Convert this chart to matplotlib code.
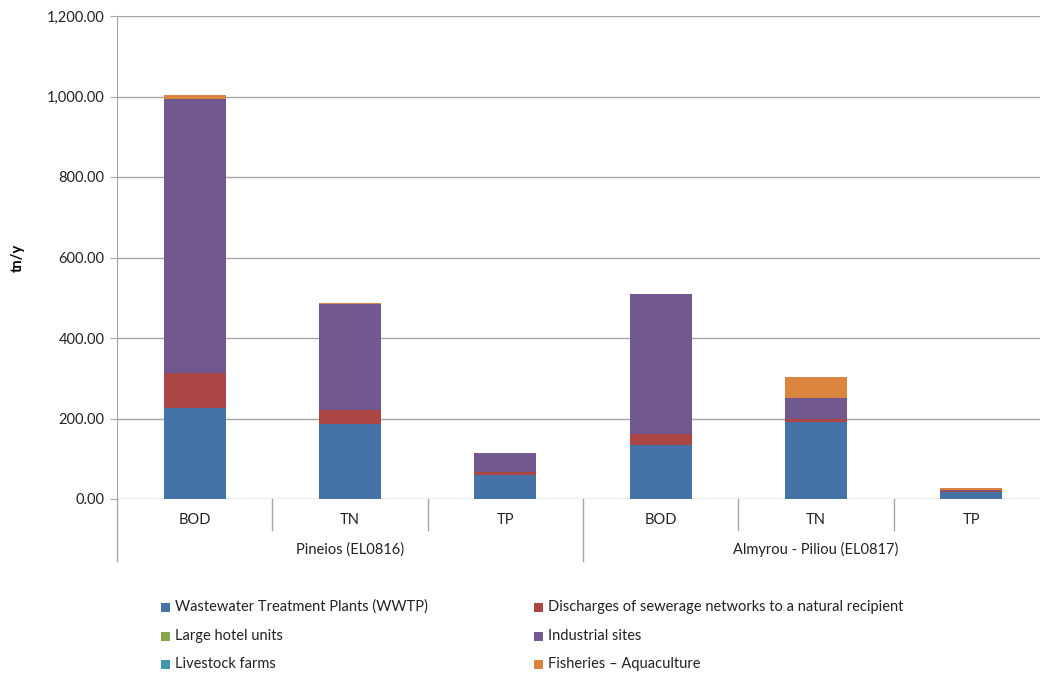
import matplotlib
matplotlib.use("Agg")
import matplotlib.pyplot as plt
import matplotlib.transforms as mtransforms
from matplotlib.patches import Rectangle
import numpy as np

plt.rcParams['font.family'] = ['Lato', 'DejaVu Sans']

# Pollutant loads (tn/y) per water body and parameter
groups = ["Pineios (EL0816)", "Almyrou - Piliou (EL0817)"]
params = ["BOD", "TN", "TP", "BOD", "TN", "TP"]

sources = [
    "Wastewater Treatment Plants (WWTP)",
    "Discharges of sewerage networks to a natural recipient",
    "Large hotel units",
    "Industrial sites",
    "Livestock farms",
    "Fisheries \u2013 Aquaculture",
]
colors = ["#4572A7", "#AA4643", "#89A54E", "#71588F", "#4198AF", "#DB843D"]

wwtp       = [226, 187, 60, 133, 192, 18]
discharges = [87, 34, 6, 29, 6, 3]
hotels     = [0, 0, 0, 0, 0, 0]
industrial = [680, 264, 48, 347, 53, 1]
livestock  = [2, 0, 0, 0, 0, 0]
fisheries  = [8, 2, 1, 1, 53, 6]

series = [wwtp, discharges, hotels, industrial, livestock, fisheries]

W, H = 1040, 675
fig = plt.figure(figsize=(W / 100, H / 100), dpi=100)
# plot area runs slightly past the right edge of the canvas
ax = fig.add_axes([117 / W, 1 - 499 / H, 932 / W, (499 - 16) / H])

x = np.arange(len(params))
bottom = np.zeros(len(params))
for vals, col in zip(series, colors):
    v = np.array(vals, dtype=float)
    ax.bar(x, v, width=0.4, bottom=bottom, color=col, edgecolor="none", zorder=3)
    bottom += v

ax.set_xlim(-0.5, len(params) - 0.5)
ax.set_ylim(0, 1200)
ax.set_yticks(np.arange(0, 1201, 200))
ax.set_yticklabels([f"{v:,.2f}" for v in np.arange(0, 1201, 200)], fontsize=10.5, color="#222222")
ax.grid(axis="y", color="#A6A6A6", linewidth=1.0, zorder=0)
ax.set_xticks([])
for s in ["top", "right", "bottom"]:
    ax.spines[s].set_visible(False)
ax.spines["left"].set_color("#A6A6A6")
ax.tick_params(axis="y", length=5, color="#A6A6A6", pad=4)

ax.set_ylabel("tn/y", fontsize=10.5, fontweight="bold")
ax.yaxis.set_label_coords(-92 / 932, 0.5)

# Two-level category axis
trans = mtransforms.blended_transform_factory(ax.transData, ax.transAxes)
line_kw = dict(color="#A6A6A6", linewidth=1.0, transform=trans, clip_on=False)
for i, p in enumerate(params):
    ax.text(i, -0.043, p, transform=trans, ha="center", va="center", fontsize=10.5, color="#222222")
for b in [0.5, 1.5, 3.5, 4.5]:
    ax.plot([b, b], [0, -0.064], **line_kw)
for b in [-0.5, 2.5, 5.5]:
    ax.plot([b, b], [0, -0.128], **line_kw)
for g, gi in enumerate(groups):
    ax.text(1 + 3 * g, -0.104, gi, transform=trans, ha="center", va="center", fontsize=10.5, color="#222222")

# Legend in two columns
col_x = [165, 538]
row_y = [607, 636, 664]
for k, (name, col) in enumerate(zip(sources, colors)):
    cx = col_x[k % 2]
    cy = row_y[k // 2]
    sq = 9
    fig.patches.append(Rectangle(((cx - sq / 2) / W, 1 - (cy + sq / 2) / H), sq / W, sq / H,
                                 transform=fig.transFigure, facecolor=col, edgecolor="none"))
    fig.text((cx + 10) / W, 1 - cy / H, name, ha="left", va="center", fontsize=10.5, color="#222222")

fig.savefig("out.png", dpi=100, facecolor="white")
